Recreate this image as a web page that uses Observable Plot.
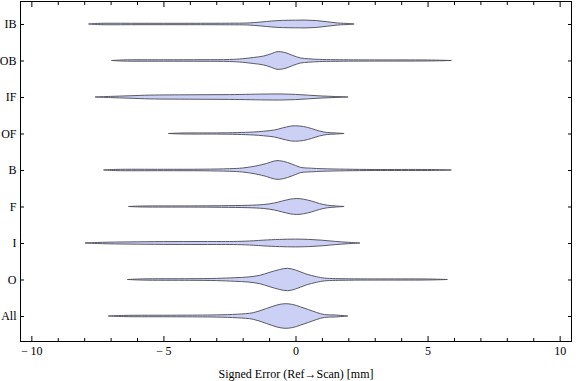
<!DOCTYPE html>
<html>
<head>
<meta charset="utf-8">
<script src="https://cdn.jsdelivr.net/npm/d3@7"></script>
<script src="https://cdn.jsdelivr.net/npm/@observablehq/plot@0.6"></script>
<style>
  html, body { margin: 0; padding: 0; background: #fff; }
</style>
</head>
<body>
<div id="chart"></div>
<script>
// Categories, bottom to top
const categories = ["All", "O", "I", "F", "B", "OF", "IF", "OB", "IB"];
const majorTicks = [-10, -5, 0, 5, 10];
const minorTicks = [-9, -8, -7, -6, -4, -3, -2, -1, 1, 2, 3, 4, 6, 7, 8, 9];
const xLabel = "Signed Error (Ref\u2192Scan) [mm]";

// Violin profiles: [signed error (mm), relative density (half-width)]
const IB = [[-7.82,0],[-7.5,0.6],[-6,0.7],[-4,0.7],[-2.5,0.8],[-1.8,1.0],[-1.3,2.0],[-0.9,3.0],[-0.5,3.6],[0,3.8],[0.4,3.9],[0.8,3.4],[1.2,2.2],[1.6,1.0],[2.0,0.5],[2.22,0]];
const OB = [[-6.95,0],[-6.5,0.6],[-5,0.7],[-3.5,0.8],[-2.5,1.0],[-2.0,1.8],[-1.6,3.0],[-1.2,4.5],[-0.9,7.0],[-0.7,8.8],[-0.4,8.0],[-0.1,5.0],[0.2,2.5],[0.5,1.7],[0.9,1.1],[1.5,0.8],[3,0.6],[5,0.5],[5.9,0]];
const IF = [[-7.57,0],[-7,0.6],[-6.3,1.2],[-5.5,1.9],[-4,2.2],[-2.5,2.4],[-1.0,3.0],[-0.5,3.0],[0,2.6],[0.5,1.8],[1.0,1.0],[1.5,0.5],[1.99,0]];
const OF = [[-4.8,0],[-4.3,0.5],[-3,0.6],[-2.2,0.9],[-1.6,1.5],[-1.2,2.3],[-0.8,3.5],[-0.5,5.5],[-0.2,7.3],[0.0,7.7],[0.3,7.0],[0.6,5.0],[0.9,2.5],[1.2,1.0],[1.5,0.6],[1.84,0]];
const B = [[-7.25,0],[-6.8,0.6],[-5,0.7],[-3.5,0.8],[-2.5,1.3],[-2.0,2.0],[-1.5,4.0],[-1.1,6.5],[-0.8,9.0],[-0.6,9.3],[-0.3,7.5],[0.0,4.5],[0.2,2.6],[0.6,1.8],[1.0,1.3],[1.9,0.8],[3,0.5],[5,0.5],[5.9,0]];
const F = [[-6.31,0],[-5.8,0.5],[-4,0.6],[-2.8,0.8],[-1.8,1.2],[-1.2,2.0],[-0.8,3.5],[-0.5,5.5],[-0.2,7.3],[0.05,8.0],[0.3,7.3],[0.6,5.5],[0.9,3.0],[1.2,1.3],[1.5,0.6],[1.84,0]];
const I = [[-7.95,0],[-7.3,0.7],[-6.3,1.1],[-5,1.4],[-3.5,1.5],[-2.2,1.6],[-1.6,2.2],[-1.2,2.9],[-0.6,3.6],[0,3.9],[0.5,3.6],[1.0,2.8],[1.5,1.6],[2.0,0.7],[2.44,0]];
const O = [[-6.35,0],[-5.8,0.6],[-4,0.8],[-3,1.1],[-2.3,1.8],[-1.8,2.5],[-1.35,4.2],[-1.0,7.0],[-0.6,10.0],[-0.3,11.2],[0,9.5],[0.4,5.5],[0.8,2.8],[1.1,1.4],[2,0.7],[3,0.6],[5,0.5],[5.75,0]];
const All = [[-7.07,0],[-6.5,0.6],[-4.5,0.8],[-3,1.1],[-2.2,1.8],[-1.6,3.3],[-1.1,7.5],[-0.7,11.0],[-0.4,12.3],[-0.1,11.5],[0.2,9.0],[0.5,6.3],[0.8,3.5],[1.1,1.4],[1.5,1.0],[1.98,0]];

const profiles = [All, O, I, F, B, OF, IF, OB, IB];
const densityScale = 1 / 36.5; // density units -> category units

const rows = [];
profiles.forEach((prof, i) => {
  for (const [x, d] of prof) {
    rows.push({cat: categories[i], x, y1: i - d * densityScale, y2: i + d * densityScale});
  }
});

const idx = d3.range(categories.length);
const fmt = d => d < 0 ? "\u2212\u2009" + Math.abs(d) : String(d);

const chart = Plot.plot({
  width: 576,
  height: 381,
  marginLeft: 20,
  marginRight: 5,
  marginTop: 1,
  marginBottom: 40,
  style: {fontFamily: "'Liberation Serif', 'DejaVu Serif', serif", fontSize: "12px", color: "black", background: "white"},
  x: {domain: [-10.43, 10.43]},
  y: {domain: [-0.685, 8.63]},
  marks: [
    Plot.areaY(rows, {x: "x", y1: "y1", y2: "y2", z: "cat", fill: "#ccd0f5", stroke: "#4a4a55", strokeWidth: 0.9, curve: "catmull-rom"}),
    Plot.frame({stroke: "black", strokeWidth: 1}),
    // bottom axis
    Plot.axisX({anchor: "bottom", ticks: majorTicks, tickSize: 0, tickPadding: 5, tickFormat: fmt, label: xLabel, labelAnchor: "center", labelArrow: "none", labelOffset: 36}),
    Plot.axisX({anchor: "bottom", ticks: majorTicks, tickSize: -5, tickFormat: () => "", label: null}),
    Plot.axisX({anchor: "bottom", ticks: minorTicks, tickSize: -3, tickFormat: () => "", label: null}),
    // top axis
    Plot.axisX({anchor: "top", ticks: majorTicks, tickSize: -5, tickFormat: () => "", label: null}),
    Plot.axisX({anchor: "top", ticks: minorTicks, tickSize: -3, tickFormat: () => "", label: null}),
    // left axis
    Plot.axisY({anchor: "left", ticks: idx, tickSize: 0, tickPadding: 4, tickFormat: i => categories[i], label: null}),
    Plot.axisY({anchor: "left", ticks: idx, tickSize: -4, tickFormat: () => "", label: null}),
    // right axis
    Plot.axisY({anchor: "right", ticks: idx, tickSize: -4, tickFormat: () => "", label: null})
  ]
});
document.getElementById("chart").appendChild(chart);
</script>
</body>
</html>
